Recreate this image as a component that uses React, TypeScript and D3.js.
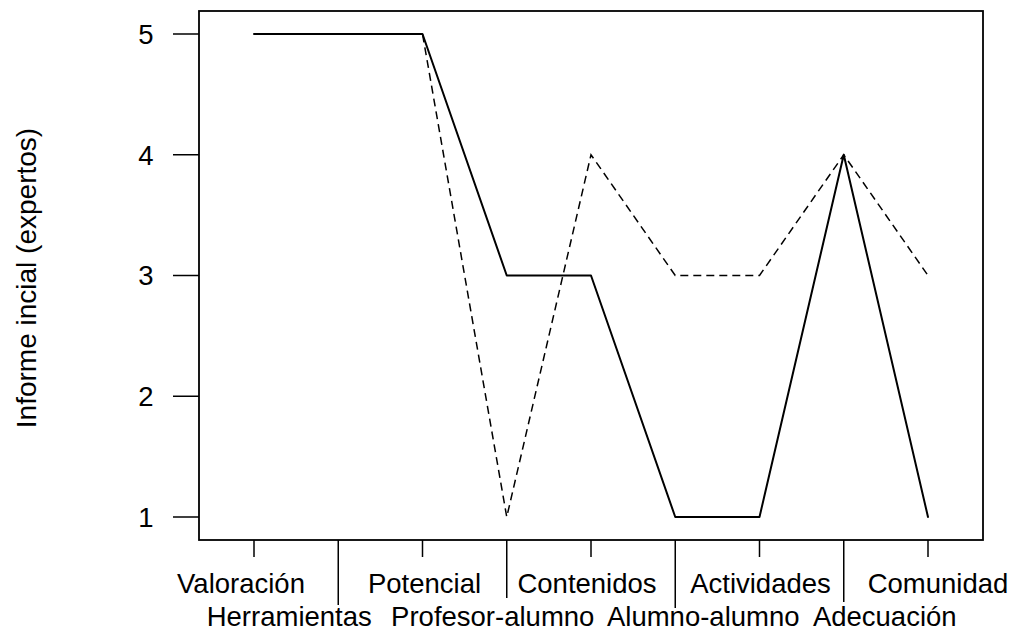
import React from "react";
import * as d3 from "d3";

const categories = [
  "Valoración",
  "Herramientas",
  "Potencial",
  "Profesor-alumno",
  "Contenidos",
  "Alumno-alumno",
  "Actividades",
  "Adecuación",
  "Comunidad",
];
const solidValues = [5, 5, 5, 3, 3, 1, 1, 4, 1];
const dashedValues = [5, 5, 5, 1, 4, 3, 3, 4, 3];
const yTicks = [1, 2, 3, 4, 5];
const yLabel = "Informe incial (expertos)";

// layout constants (label nudges as drawn in the reference)
const labelDx = [-13, -49, 2, -14, -4, 28, 1, 41, 10];
const longTickEnd = [0, 605, 0, 598, 0, 608, 0, 602, 0];

const W = 1014;
const H = 639;
const box = { left: 199, right: 983, top: 11, bottom: 540 };
const FONT = "'Liberation Sans', Arial, sans-serif";
const FS = 27.5;

export default function App() {
  const x = d3.scalePoint<string>().domain(categories).range([254, 928]);
  const y = d3.scaleLinear().domain([1, 5]).range([517, 34]);

  const line = d3
    .line<number>()
    .x((_, i) => x(categories[i]) as number)
    .y((d) => y(d));

  return (
    <svg
      width={W}
      height={H}
      style={{ position: "absolute", left: 0, top: 0, background: "#fff" }}
      fontFamily={FONT}
    >
      <rect x={0} y={0} width={W} height={H} fill="#fff" />
      {/* box */}
      <rect
        x={box.left}
        y={box.top}
        width={box.right - box.left}
        height={box.bottom - box.top}
        fill="none"
        stroke="#000"
        strokeWidth={1.8}
      />
      {/* lines */}
      <path
        d={line(dashedValues) || ""}
        fill="none"
        stroke="#000"
        strokeWidth={1.5}
        strokeDasharray="8,5"
      />
      <path
        d={line(solidValues) || ""}
        fill="none"
        stroke="#000"
        strokeWidth={2}
        strokeLinejoin="round"
        strokeLinecap="round"
      />
      {/* y axis */}
      {yTicks.map((t) => (
        <g key={t}>
          <line x1={173} x2={box.left} y1={y(t)} y2={y(t)} stroke="#000" strokeWidth={1.5} />
          <text x={146} y={y(t)} dy="0.36em" textAnchor="middle" fontSize={FS} fill="#000">
            {t}
          </text>
        </g>
      ))}
      <text
        transform={`translate(36, 278) rotate(-90)`}
        textAnchor="middle"
        fontSize={28}
        fill="#000"
      >
        {yLabel}
      </text>
      {/* x axis */}
      {categories.map((c, i) => {
        const cx = x(c) as number;
        const odd = i % 2 === 1;
        return (
          <g key={c}>
            <line
              x1={cx}
              x2={cx}
              y1={box.bottom}
              y2={odd ? longTickEnd[i] : 557}
              stroke="#000"
              strokeWidth={1.5}
            />
            <text
              x={cx + labelDx[i]}
              y={odd ? 626 : 593}
              textAnchor="middle"
              fontSize={FS}
              fill="#000"
            >
              {c}
            </text>
          </g>
        );
      })}
    </svg>
  );
}
